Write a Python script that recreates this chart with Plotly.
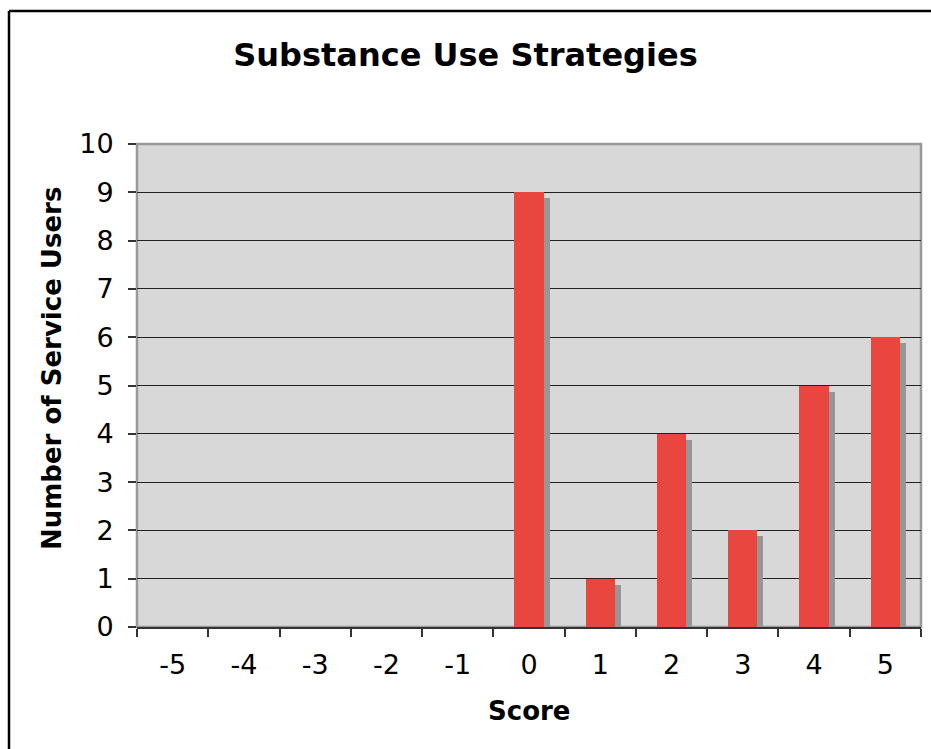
import plotly.graph_objects as go

# Score categories and number of service users at each score
scores = ["-5", "-4", "-3", "-2", "-1", "0", "1", "2", "3", "4", "5"]
users = [0, 0, 0, 0, 0, 9, 1, 4, 2, 5, 6]

W, H = 931, 749
L, R, T, B = 137, 10, 144, 122
plot_w = W - L - R
plot_h = H - T - B
y_max = 10

bar_width = 0.41
# drop shadow offset in pixels, converted to axis units
sh_dx = 6 / (plot_w / len(scores))
sh_dy = 6 / (plot_h / y_max)

FONT = "Verdana, DejaVu Sans, sans-serif"

shadow = go.Bar(
    x=scores,
    y=[max(v - sh_dy, 0) for v in users],
    width=bar_width,
    offset=-bar_width / 2 + sh_dx,
    marker=dict(color="#969696", line=dict(width=0)),
    hoverinfo="skip",
    showlegend=False,
)
bars = go.Bar(
    x=scores,
    y=users,
    width=bar_width,
    offset=-bar_width / 2,
    marker=dict(color="#E8463F", line=dict(width=0)),
    showlegend=False,
)

fig = go.Figure([shadow, bars])

# paper coordinates of the outer chart frame (left and top edges)
px = lambda x: (x - L) / plot_w
py = lambda y: (H - B - y) / plot_h

fig.update_layout(
    width=W,
    height=H,
    margin=dict(l=L, r=R, t=T, b=B, autoexpand=False),
    paper_bgcolor="white",
    plot_bgcolor="#D8D8D8",
    barmode="overlay",
    bargap=0,
    font=dict(family=FONT, size=27, color="black"),
    title=dict(
        text="<b>Substance Use Strategies</b>",
        font=dict(family=FONT, size=32, color="black"),
        x=px(529), xanchor="center",
        y=1 - 55 / H, yanchor="middle",
    ),
    xaxis=dict(
        type="category",
        categoryorder="array",
        categoryarray=scores,
        tickson="boundaries",
        ticks="outside",
        ticklen=8,
        tickwidth=1.5,
        tickcolor="#333333",
        showgrid=False,
        showline=True,
        linecolor="#333333",
        linewidth=2,
        tickfont=dict(size=27),
        ticklabelstandoff=13,
        fixedrange=True,
    ),
    yaxis=dict(
        range=[0, y_max],
        dtick=1,
        ticks="outside",
        ticklen=8,
        tickwidth=1.5,
        tickcolor="#333333",
        showgrid=True,
        gridcolor="#222222",
        gridwidth=1.2,
        zeroline=False,
        showline=False,
        tickfont=dict(size=27),
        ticklabelstandoff=9,
        fixedrange=True,
    ),
    annotations=[
        dict(
            text="<b>Score</b>",
            xref="paper", yref="paper",
            x=px(529), y=py(711),
            xanchor="center", yanchor="middle",
            showarrow=False,
            font=dict(family=FONT, size=26, color="black"),
        ),
        dict(
            text="<b>Number of Service Users</b>",
            xref="paper", yref="paper",
            x=px(52), y=py(369),
            xanchor="center", yanchor="middle",
            textangle=-90,
            showarrow=False,
            font=dict(family=FONT, size=26, color="black"),
        ),
    ],
    shapes=[
        # plot area border
        dict(type="rect", xref="paper", yref="paper", x0=0, y0=0, x1=1, y1=1,
             line=dict(color="#999999", width=2.5), layer="below"),
        # outer chart frame: left and top edges
        dict(type="line", xref="paper", yref="paper",
             x0=px(9), y0=py(H + 5), x1=px(9), y1=py(11),
             line=dict(color="black", width=2.5)),
        dict(type="line", xref="paper", yref="paper",
             x0=px(9), y0=py(11), x1=px(W), y1=py(11),
             line=dict(color="black", width=2.5)),
    ],
)

fig.write_html("out.html")
